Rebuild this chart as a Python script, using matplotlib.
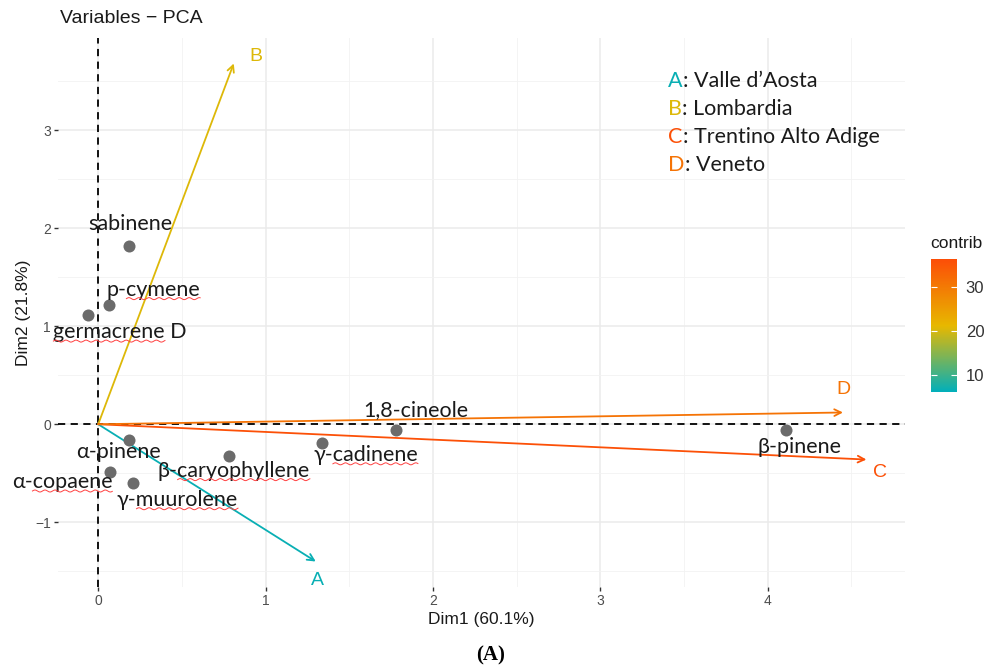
import numpy as np
import matplotlib
matplotlib.use("Agg")
import matplotlib.pyplot as plt
from matplotlib.colors import LinearSegmentedColormap, Normalize
from matplotlib.cm import ScalarMappable

# Data
regions = ["A", "B", "C", "D"]
region_names = ["Valle d\u2019Aosta", "Lombardia", "Trentino Alto Adige", "Veneto"]
arrow_x = [1.30, 0.81, 4.59, 4.45]
arrow_y = [-1.40, 3.68, -0.36, 0.12]
contrib = [6.5, 20.5, 36.0, 31.0]

compounds = ["sabinene", "p-cymene", "germacrene D", "\u03b1-pinene", "\u03b1-copaene",
             "\u03b3-muurolene", "\u03b2-caryophyllene", "\u03b3-cadinene", "1,8-cineole", "\u03b2-pinene"]
comp_x = [0.185, 0.066, -0.06, 0.185, 0.07, 0.21, 0.78, 1.34, 1.78, 4.11]
comp_y = [1.82, 1.22, 1.11, -0.16, -0.49, -0.60, -0.32, -0.19, -0.06, -0.06]
# label offsets in points (dx, dy) and part of the word flagged by the spell checker
label_off = [(0.7, 16), (31.7, 10.8), (23, -12), (-8, -8.6), (-34.5, -7), (31.7, -12),
             (3.6, -10.8), (31, -8.6), (14, 14.4), (10, -12)]
squiggle = [None, "cymene", "germacrene", None, "copaene", "muurolene", "caryophyllene", "cadinene", None, None]

pal = LinearSegmentedColormap.from_list("fx", ["#00AFBB", "#E7B800", "#FC4E07"])
norm = Normalize(vmin=5.9, vmax=36.4)

lab_font = ["Lato", "DejaVu Sans"]

fig = plt.figure(figsize=(9.87, 6.72), dpi=100)
ax = fig.add_axes([0.0588, 0.1265, 0.858, 0.817])
for s in ax.spines.values():
    s.set_visible(False)
ax.set_xticks([0, 1, 2, 3, 4])
ax.set_yticks([-1, 0, 1, 2, 3])
ax.set_xticks(np.arange(0.5, 5, 1), minor=True)
ax.set_yticks(np.arange(-1.5, 4, 1), minor=True)
ax.set_xlim(-0.24, 4.82)
ax.set_ylim(-1.66, 3.94)
ax.grid(True, which="major", color="#ebebeb", lw=1.1)
ax.grid(True, which="minor", color="#f2f2f2", lw=0.6)
ax.set_axisbelow(True)
ax.tick_params(which="major", length=3, width=1, color="#333333", labelcolor="#4d4d4d",
               labelsize=10, pad=2)
ax.tick_params(which="minor", length=0)
for t in ax.get_xticklabels() + ax.get_yticklabels():
    t.set_family("Liberation Sans")

ax.axhline(0, color="black", ls=(0, (4, 3)), lw=1.3, zorder=1)
ax.axvline(0, color="black", ls=(0, (4, 3)), lw=1.3, zorder=1)

# arrows
label_pos = {"A": (0.01, -0.19), "B": (0.13, 0.07), "C": (0.08, -0.13), "D": (0.0, 0.23)}
for r, x, y, c in zip(regions, arrow_x, arrow_y, contrib):
    col = pal(norm(c))
    ax.annotate("", xy=(x, y), xytext=(0, 0),
                arrowprops=dict(arrowstyle="->", color=col, lw=1.3, mutation_scale=12,
                                shrinkA=0, shrinkB=0), zorder=3)
    dx, dy = label_pos[r]
    ax.text(x + dx, y + dy, r, color=col, fontsize=14, family="Liberation Sans",
            ha="center", va="center", zorder=4)

# points
ax.scatter(comp_x, comp_y, s=75, color="#6b6b6b", zorder=5, linewidths=0)
texts = []
for name, x, y, (dx, dy) in zip(compounds, comp_x, comp_y, label_off):
    t = ax.annotate(name, xy=(x, y), xytext=(dx, dy), textcoords="offset points",
                    ha="center", va="center", fontsize=15.5, family=lab_font,
                    color="#1a1a1a", zorder=6)
    texts.append(t)

# legend text box
leg_y = [0.8794, 0.8378, 0.7961, 0.7544]
for r, n, c, yy in zip(regions, region_names, contrib, leg_y):
    col = pal(norm(c))
    t1 = fig.text(0.677, yy, r, color=col, fontsize=15.5, family=lab_font, va="center")
    fig.canvas.draw()
    bb = t1.get_window_extent()
    fig.text(bb.x1 / fig.bbox.width, yy, ": " + n, color="#1a1a1a", fontsize=15.5,
             family=lab_font, va="center")

ax.set_xlabel("Dim1 (60.1%)", fontsize=12.5, family="Liberation Sans", color="#1a1a1a", labelpad=3)
ax.set_ylabel("Dim2 (21.8%)", fontsize=12.5, family="Liberation Sans", color="#1a1a1a", labelpad=3)
fig.text(0.061, 0.972, "Variables \u2212 PCA", fontsize=14, family="Liberation Sans",
         color="#1a1a1a", va="center")
fig.text(0.497, 0.025, "(A)", fontsize=15, family="Liberation Serif", weight="bold",
         color="black", ha="center", va="center")

# colorbar
cax = fig.add_axes([0.943, 0.416, 0.027, 0.198])
cb = fig.colorbar(ScalarMappable(norm=norm, cmap=pal), cax=cax, ticks=[10, 20, 30])
cb.outline.set_visible(False)
cax.tick_params(direction="in", left=True, right=True, length=4, color="white", width=0.8,
                labelsize=12, labelcolor="#333333", pad=6)
for t in cax.get_yticklabels():
    t.set_family("Liberation Sans")
cax.set_title("contrib", fontsize=12.5, family="Liberation Sans", color="#1a1a1a", pad=8, loc="left")

# spell-check squiggles under some labels
fig.canvas.draw()
renderer = fig.canvas.get_renderer()
for t, name, part in zip(texts, compounds, squiggle):
    if part is None:
        continue
    bb = t.get_window_extent(renderer)
    prefix = name[:name.index(part)]
    fp = t.get_fontproperties()
    w_pre = renderer.get_text_width_height_descent(prefix, fp, ismath=False)[0] if prefix else 0
    w_part = renderer.get_text_width_height_descent(part, fp, ismath=False)[0]
    x0 = bb.x0 + w_pre
    xs = np.linspace(x0, x0 + w_part, 200)
    ys = bb.y0 + 1.0 + 1.0 * np.sin((xs - x0) / 1.6)
    fig.add_artist(plt.Line2D(xs / fig.bbox.width, ys / fig.bbox.height, color="#ff4040",
                              lw=0.7, transform=fig.transFigure, zorder=7))

fig.savefig("out.png", dpi=100, facecolor="white")
